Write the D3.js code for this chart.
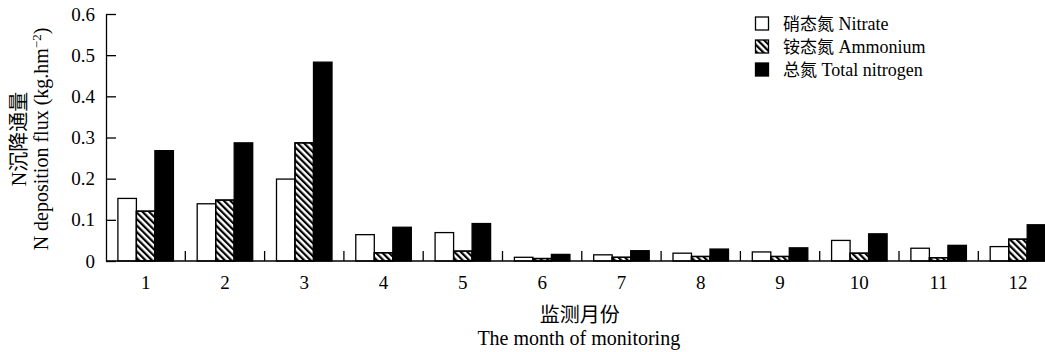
<!DOCTYPE html>
<html>
<head>
<meta charset="utf-8">
<script src="https://cdn.jsdelivr.net/npm/d3@7"></script>
<style>
  html, body { margin: 0; padding: 0; background: #fff; }
  svg { display: block; }
  text { font-family: "Liberation Serif", "Times New Roman", "Noto Sans CJK SC", serif; fill: #000; }
  .cjk { font-family: "Noto Sans CJK SC", sans-serif; }
  .lat { font-family: "Liberation Serif", "Times New Roman", serif; }
</style>
</head>
<body>
<svg id="chart" width="1045" height="352"></svg>
<script>
// Monthly N deposition flux (kg·hm⁻²)
const months = ["1", "2", "3", "4", "5", "6", "7", "8", "9", "10", "11", "12"];
const nitrate  = [0.152, 0.139, 0.199, 0.064, 0.069, 0.009, 0.015, 0.019, 0.022, 0.050, 0.031, 0.035];
const ammonium = [0.121, 0.148, 0.287, 0.020, 0.024, 0.006, 0.009, 0.011, 0.011, 0.019, 0.008, 0.053];
const totalN   = [0.268, 0.287, 0.483, 0.082, 0.091, 0.016, 0.025, 0.029, 0.032, 0.066, 0.038, 0.088];
const seriesKeys = ["nitrate", "ammonium", "total"];
const seriesCn = ["硝态氮", "铵态氮", "总氮"];
const seriesEn = ["Nitrate", "Ammonium", "Total nitrogen"];
const yTicks = [0, 0.1, 0.2, 0.3, 0.4, 0.5, 0.6];
const yTickLabels = ["0", "0.1", "0.2", "0.3", "0.4", "0.5", "0.6"];

const table = months.map((m, i) => ({
  month: m,
  nitrate: nitrate[i],
  ammonium: ammonium[i],
  total: totalN[i]
}));

const svg = d3.select("#chart");

const x0 = 106, bandW = 79.3;
const x = d3.scaleBand()
  .domain(months)
  .range([x0, x0 + bandW * months.length])
  .paddingInner(0.3)
  .paddingOuter(0.15);
const xs = d3.scaleBand().domain(seriesKeys).range([0, x.bandwidth()]).padding(0);
const y = d3.scaleLinear().domain([0, 0.6]).range([261, 14]);

// hatch pattern for ammonium bars
const defs = svg.append("defs");
defs.append("pattern")
  .attr("id", "hatch")
  .attr("patternUnits", "userSpaceOnUse")
  .attr("width", 4.6).attr("height", 4.6)
  .attr("patternTransform", "rotate(-45)")
  .append("rect")
  .attr("x", 0).attr("y", 0).attr("width", 2.2).attr("height", 4.6)
  .attr("fill", "#000");

const fills = { nitrate: "#fff", ammonium: "url(#hatch)", total: "#000" };

// bars
const groups = svg.append("g").selectAll("g")
  .data(table).join("g")
  .attr("transform", d => `translate(${x(d.month)},0)`);

groups.selectAll("rect")
  .data(d => seriesKeys.map(k => ({ key: k, value: d[k] })))
  .join("rect")
  .attr("x", d => xs(d.key))
  .attr("y", d => y(d.value))
  .attr("width", xs.bandwidth())
  .attr("height", d => y(0) - y(d.value))
  .attr("fill", d => d.key === "ammonium" ? "#fff" : fills[d.key])
  .attr("stroke", "#000")
  .attr("stroke-width", 1.3);

groups.selectAll("rect.h")
  .data(d => [{ key: "ammonium", value: d.ammonium }])
  .join("rect")
  .attr("class", "h")
  .attr("x", d => xs(d.key))
  .attr("y", d => y(d.value))
  .attr("width", xs.bandwidth())
  .attr("height", d => y(0) - y(d.value))
  .attr("fill", "url(#hatch)")
  .attr("stroke", "#000")
  .attr("stroke-width", 1.3);

// y axis with inward ticks
const yAxis = d3.axisRight(y)
  .tickValues(yTicks)
  .tickFormat("")
  .tickSize(10)
  .tickSizeOuter(0);
const gy = svg.append("g").attr("transform", `translate(${x0},0)`).call(yAxis);
gy.selectAll("path, line").attr("stroke", "#000").attr("stroke-width", 1.3);

svg.append("g").selectAll("text")
  .data(yTicks).join("text")
  .attr("x", 95)
  .attr("y", d => y(d))
  .attr("dy", "0.35em")
  .attr("text-anchor", "end")
  .style("font-size", "19px")
  .text((d, i) => yTickLabels[i]);

// x baseline and category separators
const xRange = x.range();
svg.append("line")
  .attr("x1", xRange[0]).attr("x2", xRange[1])
  .attr("y1", y(0)).attr("y2", y(0))
  .attr("stroke", "#000").attr("stroke-width", 1.3);

const bounds = d3.range(1, months.length + 1).map(i => xRange[0] + i * bandW);
svg.append("g").selectAll("line")
  .data(bounds).join("line")
  .attr("x1", d => d).attr("x2", d => d)
  .attr("y1", y(0)).attr("y2", y(0) - 10)
  .attr("stroke", "#000").attr("stroke-width", 1.3);

svg.append("g").selectAll("text")
  .data(months).join("text")
  .attr("x", d => x(d) + x.bandwidth() / 2)
  .attr("y", 289)
  .attr("text-anchor", "middle")
  .style("font-size", "19px")
  .text(d => d);

// axis titles
const cx = (xRange[0] + xRange[1]) / 2;
svg.append("text").attr("class", "cjk").attr("x", cx - 2).attr("y", 322).attr("text-anchor", "middle")
  .style("font-size", "20px").text("监测月份");
svg.append("text").attr("class", "lat").attr("x", cx - 3).attr("y", 345).attr("text-anchor", "middle")
  .style("font-size", "20px").text("The month of monitoring");

const yl = svg.append("text")
  .attr("transform", "translate(0,139) rotate(-90)")
  .attr("text-anchor", "middle")
  .style("font-size", "20px");
yl.append("tspan").attr("x", 0).attr("y", 26).text("N沉降通量");
yl.append("tspan").attr("x", 0).attr("y", 48).text("N deposition flux (kg.hm");
yl.append("tspan").attr("dy", -7).style("font-size", "13px").text("−2");
yl.append("tspan").attr("dy", 7).text(")");

// legend
const legend = svg.append("g").attr("transform", "translate(755,0)");
const rowY = [24, 47, 70];
seriesKeys.forEach((k, i) => {
  legend.append("rect")
    .attr("x", 0.5).attr("y", rowY[i] - 7)
    .attr("width", 13).attr("height", 13)
    .attr("fill", fills[k])
    .attr("stroke", "#000").attr("stroke-width", 1.3);
  const t = legend.append("text")
    .attr("x", 28).attr("y", rowY[i])
    .attr("dy", "0.35em")
    .style("font-size", "17px");
  t.append("tspan").attr("class", "cjk").text(seriesCn[i]);
  t.append("tspan").attr("class", "lat").style("font-size", "18px").text(" " + seriesEn[i]);
});
</script>
</body>
</html>
